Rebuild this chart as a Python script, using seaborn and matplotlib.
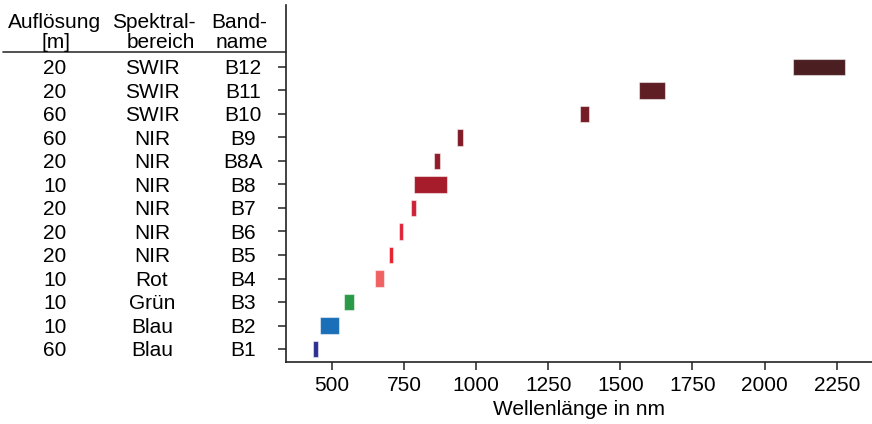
import matplotlib
matplotlib.use("Agg")
import matplotlib.pyplot as plt
import matplotlib.transforms as mtransforms
import seaborn as sns
import pandas as pd

bands = ["B1", "B2", "B3", "B4", "B5", "B6", "B7", "B8", "B8A", "B9", "B10", "B11", "B12"]
resolution = ["60", "10", "10", "10", "20", "20", "20", "10", "20", "60", "60", "20", "20"]
region = ["Blau", "Blau", "Grün", "Rot", "NIR", "NIR", "NIR", "NIR", "NIR", "NIR", "SWIR", "SWIR", "SWIR"]
wl_start = [433, 458, 543, 650, 698, 733, 773, 785, 855, 935, 1360, 1565, 2100]
wl_end = [453, 523, 578, 680, 713, 748, 793, 900, 875, 955, 1390, 1655, 2280]
colors = ["#2e3192", "#1a6fb8", "#2a9a48", "#f06262", "#e8202f", "#e2243a",
          "#cc2236", "#a61c2a", "#921b2b", "#821b28", "#761c25", "#5e1e24", "#4b1f22"]
xticks = [500, 750, 1000, 1250, 1500, 1750, 2000, 2250]
headers = [("Auflösung", "[m]"), ("Spektral-", "bereich"), ("Band-", "name")]

df = pd.DataFrame({"band": bands, "res": resolution, "region": region,
                   "start": wl_start, "end": wl_end})
df["width"] = df["end"] - df["start"]

sns.set_style("ticks")
plt.rcParams["font.family"] = ["Liberation Sans", "DejaVu Sans"]
plt.rcParams["text.color"] = "black"
plt.rcParams["axes.labelcolor"] = "black"
plt.rcParams["xtick.color"] = "black"
plt.rcParams["ytick.color"] = "black"

FS = 15
W, H = 872, 424
fig = plt.figure(figsize=(W / 100, H / 100), dpi=100)
ax = fig.add_axes([286 / W, (H - 362) / H, 1 - 286 / W, (362 - 5) / H])

ypos = list(range(len(df)))
ax.barh(ypos, df["width"], left=df["start"], height=0.7, color=colors,
        edgecolor=(1, 1, 1, 0.5), linewidth=0.8)
lo, hi = df["start"].min(), df["end"].max()
pad = 0.05 * (hi - lo)
ax.set_xlim(lo - pad, hi + pad)
ax.set_ylim(-0.55, 14.63)
ax.set_yticks(ypos)
ax.set_yticklabels([])
ax.set_xticks(xticks)
ax.set_xticklabels([str(t) for t in xticks])
ax.tick_params(axis="both", length=6, width=1.1, color="#222222", labelsize=FS,
               labelcolor="black", pad=4)
ax.set_xlabel("Wellenlänge in nm", fontsize=FS, labelpad=4, color="black")
sns.despine(ax=ax, top=True, right=True)
for s in ("left", "bottom"):
    ax.spines[s].set_linewidth(1.2)
    ax.spines[s].set_color("#222222")

trans = mtransforms.blended_transform_factory(fig.transFigure, ax.transData)
col_x = [55 / W, 152 / W, 243 / W]
for i, row in df.iterrows():
    for cx, val in zip(col_x, [row["res"], row["region"], row["band"]]):
        ax.text(cx, i - 0.08, val, transform=trans, ha="center", va="center",
                fontsize=FS, color="black", clip_on=False)

hdr_x = [(55, 56), (153.5, 160.5), (239, 241.5)]
for (l1, l2), (x1, x2) in zip(headers, hdr_x):
    ax.text(x1 / W, 13.65, l1, transform=trans, ha="center", va="baseline",
            fontsize=FS, color="black", clip_on=False)
    ax.text(x2 / W, 12.8, l2, transform=trans, ha="center", va="baseline",
            fontsize=FS, color="black", clip_on=False)

ax.plot([3 / W, 286 / W], [12.63, 12.63], transform=trans, color="#333333",
        lw=1.2, clip_on=False)

fig.savefig("out.png", dpi=100)
